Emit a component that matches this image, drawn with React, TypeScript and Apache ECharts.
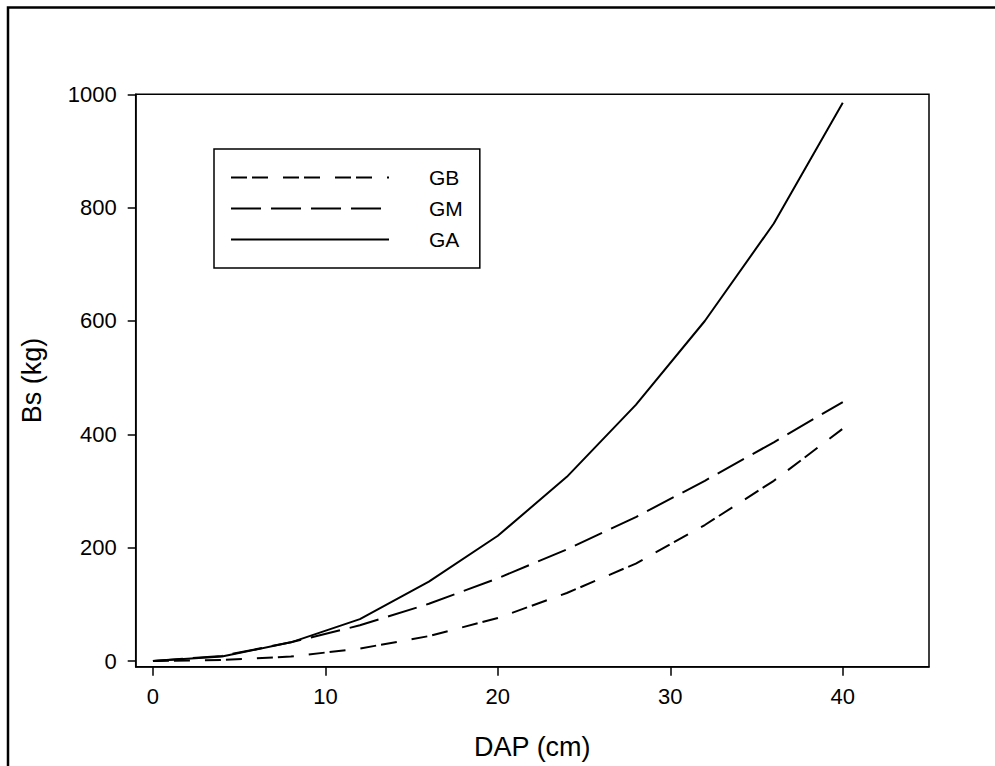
import React, { useEffect, useRef } from "react";
import * as echarts from "echarts";

const dap = [0, 4, 8, 12, 16, 20, 24, 28, 32, 36, 40];
const gb = [0, 2, 8, 22, 44, 76, 120, 172, 240, 318, 410];
const gm = [0, 9, 33, 63, 101, 146, 197, 254, 318, 386, 457];
const ga = [0, 8, 33, 74, 140, 221, 325, 452, 600, 772, 985];
const xTicks = [0, 10, 20, 30, 40];
const yTicks = [0, 200, 400, 600, 800, 1000];

const FONT = "'Liberation Sans', Arial, sans-serif";

export default function App() {
  const ref = useRef<HTMLDivElement>(null);
  useEffect(() => {
    if (!ref.current) return;
    const chart = echarts.init(ref.current, null, { renderer: "svg" });
    const axisLineStyle = { color: "#000", width: 1.5 };
    chart.setOption({
      animation: false,
      backgroundColor: "#fff",
      textStyle: { fontFamily: FONT, color: "#000" },
      grid: {
        left: 135.7,
        top: 94.3,
        right: 66,
        bottom: 99.3,
        show: true,
        borderColor: "#000",
        borderWidth: 1.5,
      },
      graphic: [
        {
          type: "rect",
          shape: { x: 8, y: 7.5, width: 1200, height: 1000 },
          style: { fill: "none", stroke: "#000", lineWidth: 2.5 },
          silent: true,
        },
      ],
      legend: {
        left: 214,
        top: 149,
        orient: "vertical",
        borderColor: "#000",
        borderWidth: 1.5,
        borderRadius: 0,
        padding: [18, 17, 18, 16],
        itemWidth: 158,
        itemHeight: 20,
        itemGap: 10,
        itemStyle: { opacity: 0 },
        textStyle: {
          fontFamily: FONT,
          fontSize: 21,
          color: "#000",
          padding: [0, 0, 0, 35],
        },
        data: ["GB", "GM", "GA"],
      },
      xAxis: {
        type: "value",
        min: -1,
        max: 45,
        name: "DAP (cm)",
        nameLocation: "middle",
        nameGap: 67,
        nameTextStyle: { fontFamily: FONT, fontSize: 27, color: "#000" },
        axisLine: { show: true, onZero: false, lineStyle: axisLineStyle },
        axisTick: {
          show: true,
          inside: false,
          length: 9,
          customValues: xTicks,
          lineStyle: axisLineStyle,
        },
        axisLabel: {
          customValues: xTicks,
          margin: 19,
          fontFamily: FONT,
          fontSize: 22,
          color: "#000",
          formatter: (v: number) => String(v),
        },
        splitLine: { show: false },
      },
      yAxis: {
        type: "value",
        min: -10,
        max: 1000,
        name: "Bs (kg)",
        nameLocation: "middle",
        nameGap: 90,
        nameTextStyle: { fontFamily: FONT, fontSize: 27, color: "#000" },
        axisLine: { show: true, onZero: false, lineStyle: axisLineStyle },
        axisTick: {
          show: true,
          inside: false,
          length: 8,
          customValues: yTicks,
          lineStyle: axisLineStyle,
        },
        axisLabel: {
          customValues: yTicks,
          margin: 19,
          fontFamily: FONT,
          fontSize: 22,
          color: "#000",
          formatter: (v: number) => String(v),
        },
        splitLine: { show: false },
      },
      series: [
        {
          name: "GB",
          type: "line",
          symbol: "none",
          data: dap.map((x, i) => [x, gb[i]]),
          lineStyle: { color: "#000", width: 2, type: [16, 5, 16, 15] },
          itemStyle: { color: "#000" },
        },
        {
          name: "GM",
          type: "line",
          symbol: "none",
          data: dap.map((x, i) => [x, gm[i]]),
          lineStyle: { color: "#000", width: 2, type: [30, 10] },
          itemStyle: { color: "#000" },
        },
        {
          name: "GA",
          type: "line",
          symbol: "none",
          data: dap.map((x, i) => [x, ga[i]]),
          lineStyle: { color: "#000", width: 2, type: "solid" },
          itemStyle: { color: "#000" },
        },
      ],
    });
    return () => chart.dispose();
  }, []);
  return (
    <div
      ref={ref}
      style={{ position: "fixed", left: 0, top: 0, width: 995, height: 766 }}
    />
  );
}
